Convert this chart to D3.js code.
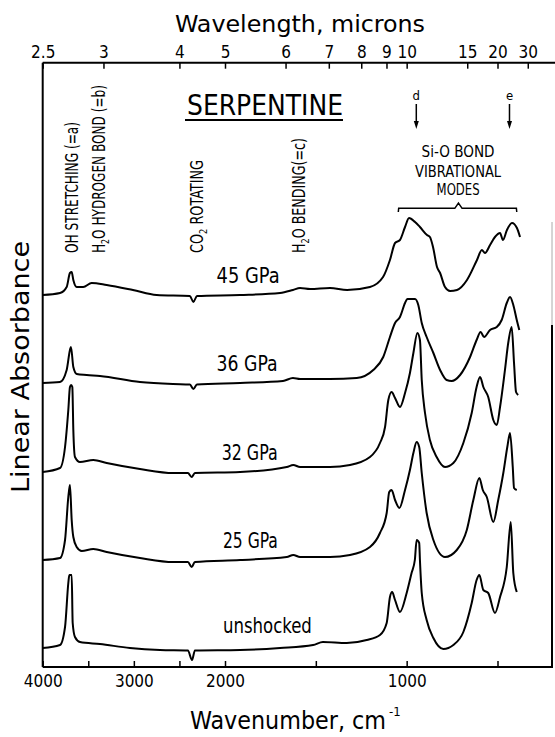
<!DOCTYPE html>
<html>
<head>
<meta charset="utf-8">
<script src="https://cdn.jsdelivr.net/npm/d3@7"></script>
<style>
body { margin: 0; background: #fff; }
svg { display: block; font-family: "DejaVu Sans Condensed", "DejaVu Sans", sans-serif; }
</style>
</head>
<body>
<svg width="555" height="737"></svg>
<script>
// wavenumber (cm-1) and absorbance (arbitrary units, relative to each trace's own baseline)
const wn45 = [4000,3810,3737,3701,3682,3664,3627,3555,3463,3298,3010,2750,2385,2347,2308,1917,1697,1626,1587,1532,1422,1328,1202,1130,1092,1064,1037,1009,987,954,927,888,872,855,833,816,789,761,723,668,613,586,569,541,514,486,470,448,420,393,376];
const ab45 = [0,0.02,0.08,0.22,0.23,0.15,0.08,0.08,0.12,0.10,0.05,0,-0.01,-0.07,-0.01,0,0.02,0.05,0.07,0.06,0.07,0.05,0.08,0.18,0.35,0.52,0.55,0.68,0.77,0.73,0.68,0.60,0.58,0.48,0.28,0.22,0.08,0.04,0.05,0.15,0.35,0.45,0.42,0.50,0.58,0.62,0.55,0.65,0.72,0.67,0.58];

const wn36 = [4000,3810,3737,3701,3690,3664,3627,3518,3372,2933,2571,2385,2347,2308,1917,1681,1626,1587,1422,1275,1184,1129,1092,1064,1037,1009,996,954,936,917,890,853,816,780,752,706,651,615,593,574,541,504,477,449,431,413,394,380];
const ab36 = [0,0.01,0.13,0.33,0.36,0.16,0.09,0.08,0.07,0.01,-0.01,-0.015,-0.06,-0.015,0,0.02,0.05,0.04,0.04,0.05,0.13,0.26,0.46,0.60,0.66,0.80,0.84,0.84,0.78,0.60,0.46,0.30,0.13,0.03,0.02,0.08,0.26,0.43,0.51,0.46,0.53,0.56,0.63,0.80,0.86,0.78,0.63,0.53];

const wn32 = [4000,3810,3755,3719,3701,3688,3675,3664,3646,3591,3445,3298,2933,2568,2407,2366,2330,1917,1660,1624,1587,1422,1312,1202,1147,1119,1101,1083,1064,1037,1009,982,963,941,927,917,899,872,835,789,743,688,642,615,596,578,551,523,504,486,459,441,422,409,398,386];
const ab32 = [0,0.04,0.25,0.62,0.85,0.87,0.85,0.42,0.15,0.10,0.12,0.09,0.03,-0.01,-0.01,-0.05,-0.01,0,0.05,0.07,0.05,0.05,0.07,0.15,0.29,0.45,0.72,0.80,0.74,0.65,0.79,0.99,1.19,1.39,1.32,0.92,0.59,0.32,0.15,0.05,0.09,0.29,0.59,0.85,0.95,0.85,0.75,0.52,0.47,0.65,1.02,1.29,1.45,1.09,0.80,0.77];

const wn25 = [4000,3810,3755,3719,3701,3682,3664,3627,3572,3445,3298,2933,2568,2407,2366,2330,1917,1660,1624,1587,1422,1312,1202,1147,1110,1096,1083,1064,1040,1009,982,963,945,931,917,890,853,789,724,669,633,600,581,559,523,496,468,446,431,416,409,394];
const ab25 = [0,0.02,0.20,0.63,0.75,0.40,0.23,0.13,0.09,0.11,0.08,0.02,-0.02,-0.02,-0.07,-0.02,0,0.03,0.05,0.03,0.03,0.05,0.13,0.27,0.47,0.68,0.70,0.60,0.52,0.70,0.90,1.07,1.18,1.13,0.87,0.47,0.20,0.03,0.10,0.30,0.60,0.82,0.70,0.63,0.38,0.60,0.87,1.13,1.27,0.93,0.72,0.70];

const wn0 = [4000,3810,3755,3719,3708,3682,3671,3646,3591,3372,3043,2714,2407,2362,2330,1917,1697,1515,1461,1330,1220,1147,1110,1092,1080,1064,1037,1000,973,955,945,931,927,917,890,853,798,743,688,642,615,600,578,551,514,486,449,427,413,394];
const ab0 = [0,0.03,0.21,0.65,0.73,0.73,0.25,0.11,0.06,0.04,0,-0.02,-0.025,-0.12,-0.025,-0.02,0,0.03,0.06,0.05,0.08,0.13,0.25,0.51,0.56,0.48,0.36,0.55,0.75,0.88,1.08,1.05,0.88,0.55,0.28,0.10,-0.01,0.03,0.16,0.45,0.68,0.73,0.58,0.55,0.35,0.51,0.81,1.26,0.75,0.56];

const traceNames = ["45 GPa", "36 GPa", "32 GPa", "25 GPa", "unshocked"];
const traceOffsets = [3.72, 2.84, 1.95, 1.07, 0.19];
const traceWn = [wn45, wn36, wn32, wn25, wn0];
const traceAb = [ab45, ab36, ab32, ab25, ab0];

const bottomTicks = [4000, 3500, 3000, 2500, 2000, 1500, 1000, 500];
const bottomLabels = [4000, 3000, 2000, 1000];
const micronTicks = [2.5, 3, 4, 5, 6, 7, 8, 9, 10, 15, 20, 30];
const micronLabels = ["2.5", "3", "4", "5", "6", "7", "8", "9", "10", "15", "20", "30"];

const svg = d3.select("svg");

const plotL = 42.7, plotR = 552, plotT = 62.7, plotB = 667;

// axis is compressed above 2000 cm-1 (scale change), like the original
const x = d3.scaleLinear().domain([4000, 2000, 200]).range([plotL, 225, plotR]);
const y = d3.scaleLinear().domain([0, 6.05]).range([plotB, 62]);

// frame
svg.append("line").attr("x1", plotL).attr("x2", plotL).attr("y1", plotT).attr("y2", plotB)
    .attr("stroke", "#000").attr("stroke-width", 2);
svg.append("line").attr("x1", plotL).attr("x2", 555).attr("y1", plotT).attr("y2", plotT)
    .attr("stroke", "#000").attr("stroke-width", 2);
svg.append("line").attr("x1", plotL).attr("x2", plotR + 1).attr("y1", plotB).attr("y2", plotB)
    .attr("stroke", "#000").attr("stroke-width", 2);
svg.append("line").attr("x1", plotR).attr("x2", plotR).attr("y1", 222).attr("y2", 325)
    .attr("stroke", "#aaa").attr("stroke-width", 1);
svg.append("line").attr("x1", plotR).attr("x2", plotR).attr("y1", 325).attr("y2", plotB)
    .attr("stroke", "#000").attr("stroke-width", 2);

// bottom axis
const xb = svg.append("g").attr("transform", `translate(0,${plotB})`)
    .call(d3.axisBottom(x).tickValues(bottomTicks).tickSize(-6).tickPadding(8)
        .tickFormat(d => bottomLabels.includes(d) ? d : ""));
xb.select(".domain").remove();
xb.attr("font-family", null).attr("font-size", 17);
xb.selectAll(".tick line").attr("stroke-width", 1.5);

// top axis in microns
const xt = svg.append("g").attr("transform", `translate(0,${plotT})`)
    .call(d3.axisTop(x).tickValues(micronTicks.map(m => 1e4 / m)).tickSize(-6).tickPadding(5)
        .tickFormat((d, i) => micronLabels[i]));
xt.select(".domain").remove();
xt.attr("font-family", null).attr("font-size", 17);
xt.selectAll(".tick line").attr("stroke-width", 1.5);

// titles
svg.append("text").attr("x", 175).attr("y", 32).attr("font-size", 23)
    .attr("textLength", 250).attr("lengthAdjust", "spacingAndGlyphs")
    .text("Wavelength, microns");
svg.append("text").attr("x", 190).attr("y", 729).attr("font-size", 24)
    .attr("textLength", 196).attr("lengthAdjust", "spacingAndGlyphs")
    .text("Wavenumber, cm");
svg.append("text").attr("x", 389).attr("y", 716).attr("font-size", 13).text("-1");
svg.append("text").attr("transform", "translate(29,367) rotate(-90)")
    .attr("text-anchor", "middle").attr("font-size", 25)
    .attr("textLength", 252).attr("lengthAdjust", "spacingAndGlyphs")
    .text("Linear Absorbance");

svg.append("text").attr("x", 187).attr("y", 115).attr("font-size", 29)
    .attr("textLength", 156).attr("lengthAdjust", "spacingAndGlyphs")
    .text("SERPENTINE");
svg.append("line").attr("x1", 185).attr("x2", 343).attr("y1", 120).attr("y2", 120)
    .attr("stroke", "#000").attr("stroke-width", 2);

// vertical band labels
const bands = [
    {wn: 3682, parts: ["OH STRETCHING (=a)"], len: 131},
    {wn: 3388, parts: ["H", "2", "O HYDROGEN BOND (=b)"], len: 168},
    {wn: 2308, parts: ["CO", "2", " ROTATING"], len: 93},
    {wn: 1598, parts: ["H", "2", "O  BENDING(=c)"], len: 115}
];
bands.forEach(b => {
    const t = svg.append("text")
        .attr("transform", `translate(${x(b.wn) + 6.5},253) rotate(-90)`)
        .attr("font-size", 17)
        .attr("textLength", b.len).attr("lengthAdjust", "spacingAndGlyphs");
    b.parts.forEach((p, i) => {
        const s = t.append("tspan").text(p);
        if (i === 1) s.attr("font-size", 11).attr("dy", 4);
        if (i === 2) s.attr("dy", -4);
    });
});

// Si-O annotation
svg.append("g").attr("font-size", 15).attr("text-anchor", "middle")
    .selectAll("text")
    .data([["Si-O BOND", 157, 73], ["VIBRATIONAL", 177, 86], ["MODES", 195, 43]])
    .join("text")
    .attr("x", x(717)).attr("y", d => d[1])
    .attr("textLength", d => d[2]).attr("lengthAdjust", "spacingAndGlyphs")
    .text(d => d[0]);
svg.append("path")
    .attr("d", `M${x(1046)},212 L${x(1044)},208.3 L${x(735)},208.3 L${x(715)},203 L${x(695)},208.3 L${x(396)},208.3 L${x(394)},212`)
    .attr("fill", "none").attr("stroke", "#000").attr("stroke-width", 1.5);

// d and e arrows
[["d", 947], ["e", 434]].forEach(([lab, w]) => {
    const cx = x(w);
    svg.append("text").attr("x", cx).attr("y", 100).attr("text-anchor", "middle")
        .attr("font-size", 13).text(lab);
    svg.append("line").attr("x1", cx).attr("x2", cx).attr("y1", 104).attr("y2", 122)
        .attr("stroke", "#000").attr("stroke-width", 1.5);
    svg.append("path").attr("d", `M${cx - 2.5},121 L${cx + 2.5},121 L${cx},129 Z`).attr("fill", "#000");
});

// spectra
const line = d3.line()
    .x(d => x(d[0]))
    .y(d => y(d[1]))
    .curve(d3.curveMonotoneX);

traceNames.forEach((name, i) => {
    const pts = d3.zip(traceWn[i], traceAb[i]).map(p => [p[0], p[1] + traceOffsets[i]]);
    svg.append("path").datum(pts)
        .attr("d", line)
        .attr("fill", "none")
        .attr("stroke", "#000")
        .attr("stroke-width", 2)
        .attr("stroke-linejoin", "round");
});

// trace labels
const labelWn = [2092, 2092, 2037, 2023, 2023];
const labelLen = [63, 61, 56, 55, 89];
const labelLift = [0.12, 0.12, 0.12, 0.12, 0.15];
svg.append("g").attr("font-size", 21)
    .selectAll("text")
    .data(traceNames)
    .join("text")
    .attr("x", (d, i) => x(labelWn[i]))
    .attr("y", (d, i) => y(traceOffsets[i] + labelLift[i]))
    .attr("textLength", (d, i) => labelLen[i]).attr("lengthAdjust", "spacingAndGlyphs")
    .text(d => d);
</script>
</body>
</html>
